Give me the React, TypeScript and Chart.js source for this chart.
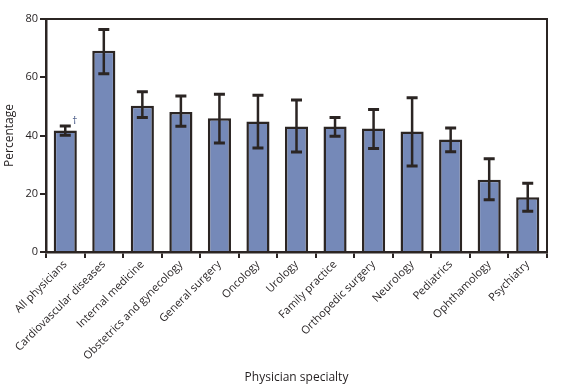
import React, { useEffect, useRef } from "react";
import { Chart, registerables } from "chart.js";

Chart.register(...registerables);

const categories = [
  "All physicians",
  "Cardiovascular diseases",
  "Internal medicine",
  "Obstetrics and gynecology",
  "General surgery",
  "Oncology",
  "Urology",
  "Family practice",
  "Orthopedic surgery",
  "Neurology",
  "Pediatrics",
  "Ophthamology",
  "Psychiatry",
];
const values = [41.7, 69.1, 50.2, 48.1, 45.9, 44.8, 43.1, 43.1, 42.4, 41.4, 38.6, 24.8, 18.8];
const lower = [40.1, 61.2, 46.2, 43.2, 37.4, 35.7, 34.3, 39.7, 35.5, 29.5, 34.4, 17.9, 14.0];
const upper = [43.3, 76.4, 55.0, 53.6, 54.2, 53.8, 52.2, 46.2, 48.9, 53.0, 42.6, 32.0, 23.6];
const yTicks = [0, 20, 40, 60, 80];
const footnoteMark = "†";

const FONT = "'Open Sans', 'Noto Sans', sans-serif";
const INK = "#2b2523";

const errorBarPlugin = {
  id: "errorBars",
  afterDatasetsDraw(chart: any) {
    const ctx = chart.ctx;
    const x = chart.scales.x;
    const y = chart.scales.y;
    ctx.save();
    ctx.strokeStyle = INK;
    ctx.lineCap = "butt";
    categories.forEach((_, i) => {
      const px = x.getPixelForValue(i);
      const yl = y.getPixelForValue(lower[i]);
      const yu = y.getPixelForValue(upper[i]);
      ctx.lineWidth = 2.5;
      ctx.beginPath();
      ctx.moveTo(px, yl);
      ctx.lineTo(px, yu);
      ctx.stroke();
      ctx.lineWidth = 3;
      ctx.beginPath();
      ctx.moveTo(px - 5.5, yu);
      ctx.lineTo(px + 5.5, yu);
      ctx.moveTo(px - 5.5, yl);
      ctx.lineTo(px + 5.5, yl);
      ctx.stroke();
    });
    // footnote dagger on first bar
    const px0 = x.getPixelForValue(0);
    const yu0 = y.getPixelForValue(upper[0]);
    ctx.fillStyle = "#2a3f73";
    ctx.font = `10px ${FONT}`;
    ctx.textAlign = "left";
    ctx.textBaseline = "middle";
    ctx.fillText(footnoteMark, px0 + 7, yu0 - 5);
    // frame top and right
    const a = chart.chartArea;
    ctx.strokeStyle = INK;
    ctx.lineWidth = 2;
    ctx.beginPath();
    ctx.moveTo(a.left, a.top);
    ctx.lineTo(a.right, a.top);
    ctx.lineTo(a.right, a.bottom);
    ctx.stroke();
    ctx.restore();
  },
};

export default function App() {
  const ref = useRef<HTMLCanvasElement | null>(null);
  useEffect(() => {
    document.body.style.margin = "0";
    const chart = new Chart(ref.current as HTMLCanvasElement, {
      type: "bar",
      data: {
        labels: categories,
        datasets: [
          {
            data: values,
            backgroundColor: "#7589b8",
            borderColor: INK,
            borderWidth: 2.5,
            barPercentage: 0.6,
            categoryPercentage: 1,
          },
        ],
      },
      options: {
        animation: false,
        responsive: false,
        maintainAspectRatio: false,
        layout: { padding: { top: 19, right: 16, left: 0, bottom: 0 } },
        plugins: { legend: { display: false }, tooltip: { enabled: false } },
        scales: {
          x: {
            grid: {
              display: true,
              drawOnChartArea: false,
              drawTicks: true,
              tickLength: 6,
              color: INK,
              lineWidth: 2,
            },
            border: { display: true, color: INK, width: 2.5 },
            ticks: {
              color: "#231f20",
              font: { family: FONT, size: 11 },
              maxRotation: 45,
              minRotation: 45,
              autoSkip: false,
              padding: 0,
            },
            title: {
              display: true,
              text: "Physician specialty",
              color: "#231f20",
              font: { family: FONT, size: 12 },
              padding: { top: 0, bottom: 2 },
            },
            afterFit(scale: any) {
              scale.height = 135;
            },
          },
          y: {
            min: 0,
            max: 80,
            afterBuildTicks(scale: any) {
              scale.ticks = yTicks.map((v) => ({ value: v }));
            },
            grid: {
              display: true,
              drawOnChartArea: false,
              drawTicks: true,
              tickLength: 6,
              color: INK,
              lineWidth: 2,
            },
            border: { display: true, color: INK, width: 2.5 },
            ticks: {
              color: "#231f20",
              font: { family: FONT, size: 11 },
              padding: 2,
            },
            title: {
              display: true,
              text: "Percentage",
              color: "#231f20",
              font: { family: FONT, size: 12 },
              padding: { top: 2, bottom: 0 },
            },
            afterFit(scale: any) {
              scale.width = 46;
            },
          },
        },
      },
      plugins: [errorBarPlugin],
    });
    return () => chart.destroy();
  }, []);
  return (
    <div style={{ width: 563, height: 387 }}>
      <canvas ref={ref} width={563} height={387} style={{ display: "block" }} />
    </div>
  );
}
